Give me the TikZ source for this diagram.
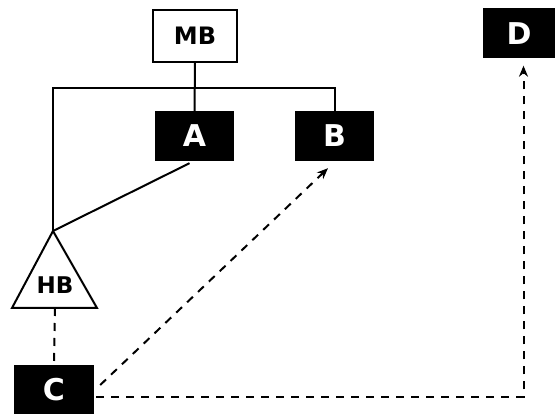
\documentclass[tikz,border=0pt]{standalone}
\usepackage{fontspec}
\setmainfont{DejaVu Sans}
\usetikzlibrary{arrows.meta,calc}
\begin{document}
\begin{tikzpicture}[x=1pt,y=-1pt,
  blk/.style={fill=black,text=white,font=\bfseries\fontsize{30}{30}\selectfont,minimum width=79pt,minimum height=50pt,inner sep=0pt},
  wbox/.style={draw,line width=2pt,fill=white,font=\bfseries\fontsize{24}{24}\selectfont,minimum width=84pt,minimum height=52pt,inner sep=0pt},
  conn/.style={line width=2pt},
  dsh/.style={conn,dash pattern=on 8pt off 7pt},
  tipa/.style={-{Stealth[length=11pt,width=9pt]}}]
\useasboundingbox (0,0) rectangle (555,414);
\node[wbox] (MB) at (195,36) {MB};
\node[blk] (A) at (194.5,136) {A};
\node[blk] (B) at (334.5,136) {B};
\node[blk,minimum width=72pt] (D) at (519,33.5) {D};
\node[blk,minimum width=80pt,minimum height=49pt] (C) at (54,389.5) {C};
\coordinate (hbtop) at (53,231);
\coordinate (hbl) at (12,308);
\coordinate (hbr) at (97,308);
\coordinate (hbbot) at (55,308);
\coordinate (bar) at (0,88);
\draw[line width=2pt,line join=miter] (hbtop) -- (hbr) -- (hbl) -- cycle;
\node[font=\bfseries\fontsize{23}{23}\selectfont,inner sep=0pt] (HB) at (55,285) {HB};
\draw[conn] (MB.south) -- (A.north);
\draw[conn] (hbtop) -- (hbtop |- bar) -| (B.north);
\draw[conn] (hbtop) -- ($(A.south)+(-5,2)$);
\draw[dsh] (hbbot) -- (C.north);
\draw[dsh,tipa] ($(C.east)+(6,-4.5)$) -- ($(B.south)+(-6.5,7)$);
\draw[dsh,tipa] ($(C.east)+(2,7.5)$) -| ($(D.south)+(4.5,7)$);
\end{tikzpicture}
\end{document}
